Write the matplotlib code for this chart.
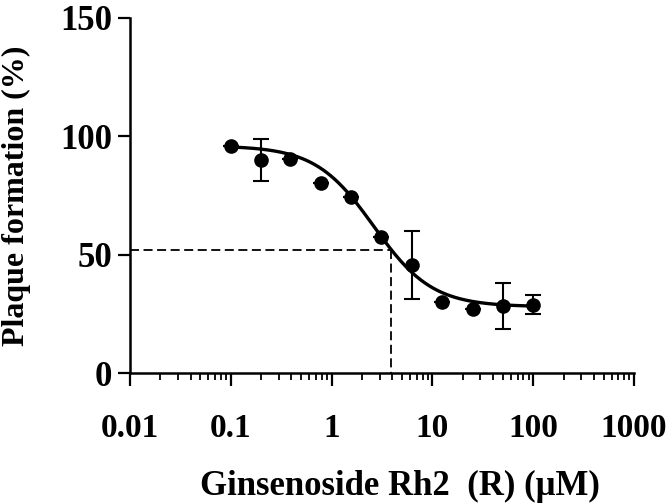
import numpy as np
import matplotlib.pyplot as plt
from matplotlib.ticker import FixedLocator, NullFormatter

# Ginsenoside Rh2 (R) concentrations (uM) and plaque formation (%)
conc = [0.1, 0.2, 0.39, 0.78, 1.56, 3.125, 6.25, 12.5, 25, 50, 100]
plaque = [96.0, 90.0, 90.3, 80.3, 74.4, 57.5, 45.7, 30.1, 26.9, 28.4, 28.8]
plaque_err = [0, 8.7, 0, 0, 0, 0, 14.4, 0, 0, 9.8, 4.0]

# four-parameter logistic fit
fit_top = 96.0
fit_bottom = 28.0
fit_ec50 = 2.62
fit_hill = 1.5

# IC50 guide lines
ic50_x = 3.9
ic50_y = 52.0

x_ticks = [0.01, 0.1, 1, 10, 100, 1000]
x_tick_labels = ["0.01", "0.1", "1", "10", "100", "1000"]
y_ticks = [0, 50, 100, 150]

plt.rcParams['font.family'] = ['Liberation Serif', 'DejaVu Serif']
plt.rcParams['font.weight'] = 'bold'

fig = plt.figure(figsize=(6.69, 5.04), dpi=100)
ax = fig.add_axes([130 / 669, 1 - 373 / 504, 504 / 669, 355 / 504])

# fitted curve
xs = np.logspace(np.log10(conc[0]), np.log10(conc[-1]), 300)
ys = fit_bottom + (fit_top - fit_bottom) / (1 + (xs / fit_ec50) ** fit_hill)
ax.plot(xs, ys, color='black', lw=2.4, zorder=3)

# data points with error bars
ax.errorbar(conc, plaque, yerr=plaque_err, fmt='o', color='black',
            markersize=9.5, capsize=5.5, elinewidth=1.5, capthick=1.5, zorder=4)

# IC50 dashed guides
ax.plot([x_ticks[0], ic50_x], [ic50_y, ic50_y], color='black', lw=1.3,
        dashes=(5, 2.5), zorder=2)
ax.plot([ic50_x, ic50_x], [ic50_y, 0], color='black', lw=1.3,
        dashes=(5, 2.5), zorder=2)

ax.set_xscale('log')
ax.set_xlim(x_ticks[0], x_ticks[-1])
ax.set_ylim(0, 150)

ax.xaxis.set_major_locator(FixedLocator(x_ticks))
ax.set_xticklabels(x_tick_labels)
minor = [m * 10.0 ** e for e in range(-2, 3) for m in range(2, 10)]
ax.xaxis.set_minor_locator(FixedLocator(minor))
ax.xaxis.set_minor_formatter(NullFormatter())
ax.set_yticks(y_ticks)

for side in ['top', 'right']:
    ax.spines[side].set_visible(False)
for side in ['left', 'bottom']:
    ax.spines[side].set_linewidth(1.8)

ax.tick_params(axis='x', which='major', length=9, width=1.6, pad=20, labelsize=24)
ax.tick_params(axis='x', which='minor', length=5, width=1.3)
ax.tick_params(axis='y', which='major', length=9, width=1.6, pad=4, labelsize=25)

ax.set_xlabel("Ginsenoside Rh2  (R) (\u03bcM)", fontsize=25, fontweight='bold')
ax.xaxis.set_label_coords(0.536, -0.272)
ax.set_ylabel("Plaque formation (%)", fontsize=23, fontweight='bold')
ax.yaxis.set_label_coords(-0.196, 0.5)

fig.savefig("out.png", dpi=100)
